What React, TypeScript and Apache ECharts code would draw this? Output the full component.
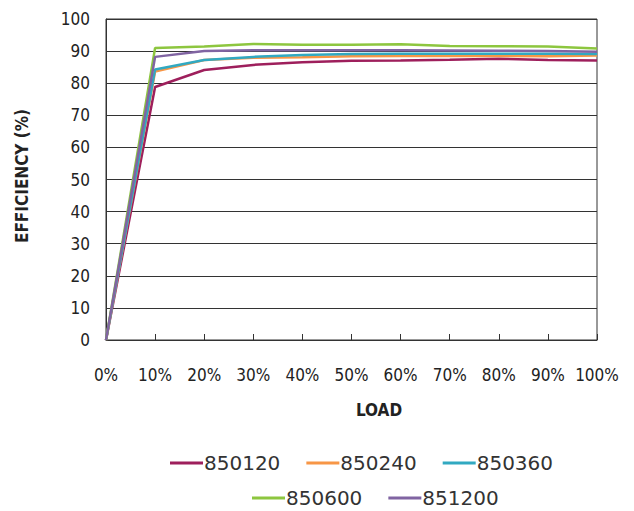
import React, { useEffect, useRef } from "react";
import * as echarts from "echarts";

const loadLabels = ["0%", "10%", "20%", "30%", "40%", "50%", "60%", "70%", "80%", "90%", "100%"];
const s850120 = [0, 78.8, 84.1, 85.7, 86.5, 87.0, 87.1, 87.3, 87.6, 87.2, 87.1];
const s850240 = [0, 83.6, 87.2, 87.9, 88.1, 88.4, 88.5, 88.5, 88.5, 88.4, 88.6];
const s850360 = [0, 84.3, 87.2, 88.2, 88.8, 89.1, 89.2, 89.2, 89.2, 89.2, 89.1];
const s850600 = [0, 91.0, 91.4, 92.2, 92.0, 92.0, 92.1, 91.6, 91.5, 91.4, 90.8];
const s851200 = [0, 88.2, 90.0, 90.3, 90.3, 90.3, 90.3, 90.2, 90.1, 90.0, 89.8];

const seriesNames = ["850120", "850240", "850360", "850600", "851200"];
const seriesData = [s850120, s850240, s850360, s850600, s851200];
const colors = ["#9E1F5C", "#F79646", "#31A9C1", "#8DC63F", "#8064A2"];

const narrow = "'Liberation Sans Narrow', 'DejaVu Sans Condensed', 'Arial Narrow', sans-serif";
const legendFont = "'DejaVu Sans', sans-serif";

export default function App() {
  const ref = useRef<HTMLDivElement>(null);
  useEffect(() => {
    const chart = echarts.init(ref.current!, null, { renderer: "svg" });
    const legendCommon = {
      itemWidth: 33,
      itemHeight: 3,
      itemGap: 26,
      icon: "rect",
      textStyle: { fontSize: 20, color: "#333", fontFamily: legendFont, padding: [0, 0, 0, -4] },
    };
    chart.setOption({
      animation: false,
      backgroundColor: "#ffffff",
      color: colors,
      grid: {
        left: 106,
        right: 37,
        top: 19,
        bottom: 171,
        show: true,
        borderColor: "#333",
        borderWidth: 1,
        backgroundColor: "transparent",
      },
      legend: [
        { ...legendCommon, data: seriesNames.slice(0, 3), left: 165, top: 448 },
        { ...legendCommon, data: seriesNames.slice(3), left: 247, top: 483 },
      ],
      xAxis: {
        type: "category",
        data: loadLabels,
        boundaryGap: false,
        axisLine: { lineStyle: { color: "#333", width: 1 } },
        axisTick: { show: true, inside: true, length: 6, lineStyle: { color: "#333" } },
        axisLabel: { fontSize: 17, color: "#222", fontFamily: narrow, margin: 26, interval: 0 },
        splitLine: { show: false },
      },
      yAxis: {
        type: "value",
        min: 0,
        max: 100,
        interval: 10,
        axisLine: { show: true, lineStyle: { color: "#333", width: 1 } },
        axisTick: { show: false },
        axisLabel: { fontSize: 17, color: "#222", fontFamily: narrow, margin: 16 },
        splitLine: { show: true, lineStyle: { color: "#333", width: 1 } },
      },
      graphic: [
        {
          type: "text",
          x: 22,
          y: 176,
          rotation: Math.PI / 2,
          style: {
            text: "EFFICIENCY (%)",
            fontSize: 17,
            fontWeight: "bold",
            fontFamily: narrow,
            fill: "#222",
            align: "center",
            verticalAlign: "middle",
          },
        },
        {
          type: "text",
          x: 379,
          y: 410,
          style: {
            text: "LOAD",
            fontSize: 17,
            fontWeight: "bold",
            fontFamily: narrow,
            fill: "#222",
            align: "center",
            verticalAlign: "middle",
          },
        },
      ],
      series: seriesNames.map((n, i) => ({
        name: n,
        type: "line",
        data: seriesData[i],
        showSymbol: false,
        symbol: "none",
        lineStyle: { width: 2.5, color: colors[i] },
        itemStyle: { color: colors[i] },
      })),
    });
    return () => chart.dispose();
  }, []);
  return <div ref={ref} style={{ width: 634, height: 511, position: "absolute", left: 0, top: 0 }} />;
}
